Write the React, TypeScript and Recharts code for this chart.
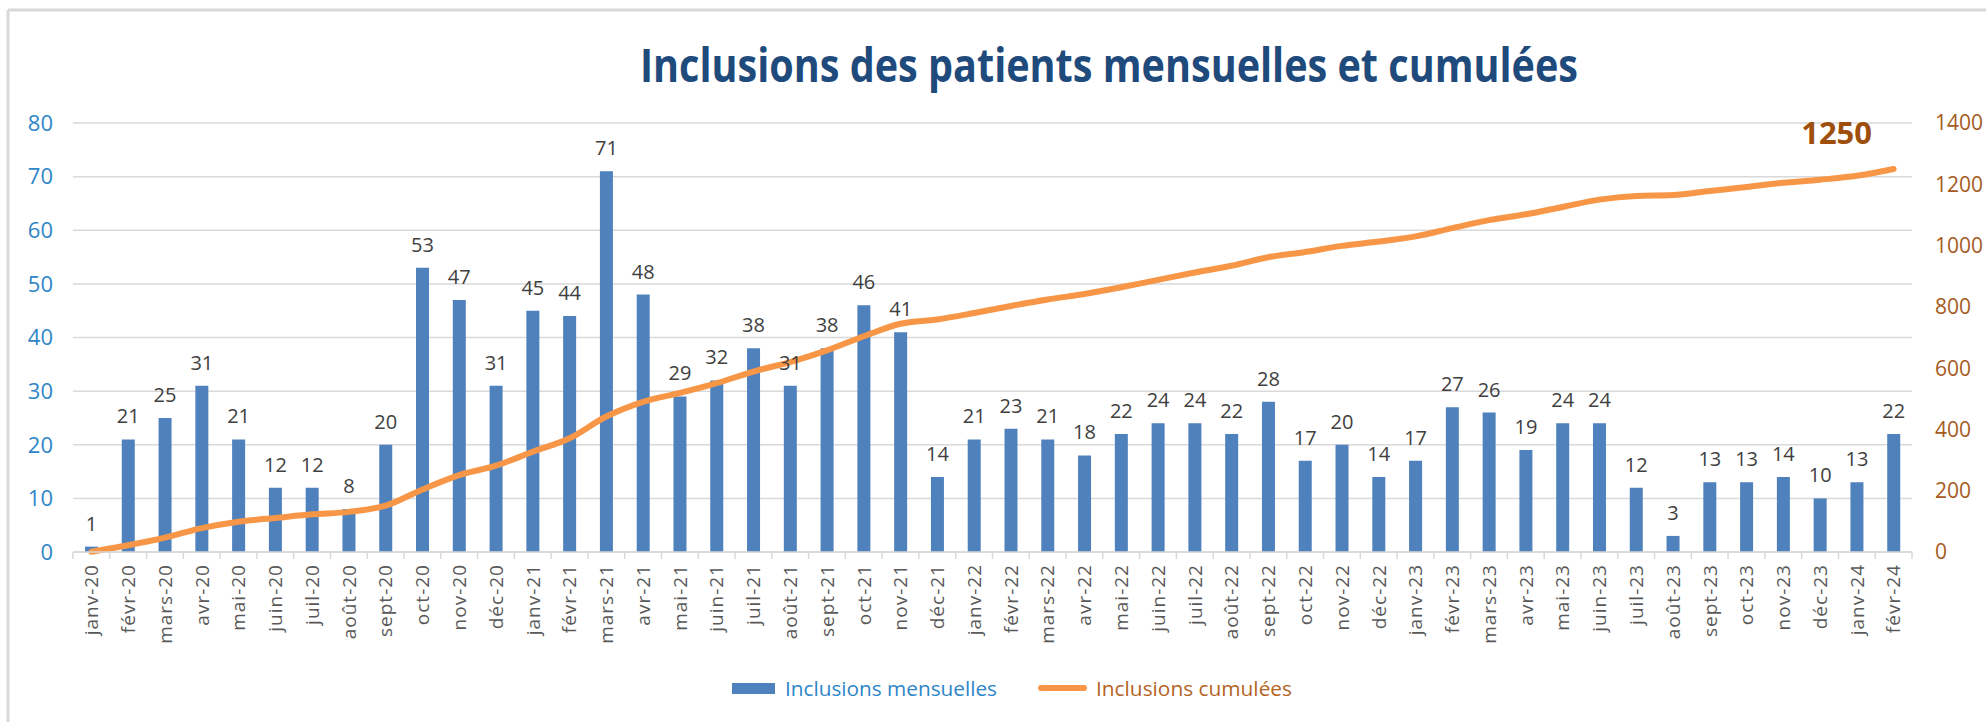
import React from 'react';
import { ComposedChart, Bar, Line, XAxis, YAxis, CartesianGrid, LabelList } from 'recharts';

const months = [
  'janv-20', 'févr-20', 'mars-20', 'avr-20', 'mai-20', 'juin-20', 'juil-20', 'août-20', 'sept-20', 'oct-20', 'nov-20', 'déc-20',
  'janv-21', 'févr-21', 'mars-21', 'avr-21', 'mai-21', 'juin-21', 'juil-21', 'août-21', 'sept-21', 'oct-21', 'nov-21', 'déc-21',
  'janv-22', 'févr-22', 'mars-22', 'avr-22', 'mai-22', 'juin-22', 'juil-22', 'août-22', 'sept-22', 'oct-22', 'nov-22', 'déc-22',
  'janv-23', 'févr-23', 'mars-23', 'avr-23', 'mai-23', 'juin-23', 'juil-23', 'août-23', 'sept-23', 'oct-23', 'nov-23', 'déc-23',
  'janv-24', 'févr-24',
];

const monthly = [
  1, 21, 25, 31, 21, 12, 12, 8, 20, 53, 47, 31,
  45, 44, 71, 48, 29, 32, 38, 31, 38, 46, 41, 14,
  21, 23, 21, 18, 22, 24, 24, 22, 28, 17, 20, 14,
  17, 27, 26, 19, 24, 24, 12, 3, 13, 13, 14, 10,
  13, 22,
];

const cumulative = [
  1, 22, 47, 78, 99, 111, 123, 131, 151, 204, 251, 282,
  327, 371, 442, 490, 519, 551, 589, 620, 658, 704, 745, 759,
  780, 803, 824, 842, 864, 888, 912, 934, 962, 979, 999, 1013,
  1030, 1057, 1083, 1102, 1126, 1150, 1162, 1165, 1178, 1191, 1205, 1215,
  1228, 1250,
];

const leftTicks = [0, 10, 20, 30, 40, 50, 60, 70, 80];
const rightTicks = [0, 200, 400, 600, 800, 1000, 1200, 1400];

const TITLE = 'Inclusions des patients mensuelles et cumulées';
const LEGEND_BAR = 'Inclusions mensuelles';
const LEGEND_LINE = 'Inclusions cumulées';

const data = months.map((m, i) => ({ month: m, mensuelles: monthly[i], cumulees: cumulative[i] }));

const FONT = '"Open Sans", "Noto Sans", sans-serif';
const HALF_BAND = 18.39;

const XTick = (props: any) => {
  const { x, y, payload, index } = props;
  return (
    <g>
      <line x1={x + HALF_BAND} y1={y - 12} x2={x + HALF_BAND} y2={y - 5} stroke="#d9d9d9" strokeWidth={1.5} />
      {index === 0 && (
        <line x1={x - HALF_BAND} y1={y - 12} x2={x - HALF_BAND} y2={y - 5} stroke="#d9d9d9" strokeWidth={1.5} />
      )}
      <text
        x={x}
        y={y}
        transform={`rotate(-90, ${x}, ${y})`}
        textAnchor="end"
        dy="0.36em"
        fontSize={19}
        letterSpacing={1}
        fill="#595959"
        fontFamily={FONT}
      >
        {payload.value}
      </text>
    </g>
  );
};

const lastValue = cumulative[cumulative.length - 1];

const renderLastLabel = (p: any) => {
  if (p.value !== lastValue) return null;
  return (
    <text
      x={p.x - 57}
      y={p.y - 25}
      textAnchor="middle"
      fontSize={31}
      fontWeight="bold"
      fill="#9E4F0C"
      fontFamily={FONT}
    >
      {p.value}
    </text>
  );
};

export default function App() {
  return (
    <div style={{ position: 'absolute', left: 0, top: 0, width: 1986, height: 722, background: '#ffffff', overflow: 'hidden' }}>
      <ComposedChart
        width={1986}
        height={722}
        data={data}
        margin={{ top: 123, right: 0, left: 0, bottom: 60 }}
      >
        <CartesianGrid yAxisId="left" vertical={false} stroke="#d9d9d9" strokeWidth={1.5} />
        <XAxis
          dataKey="month"
          interval={0}
          height={110}
          tickSize={0}
          tickMargin={12}
          tickLine={false}
          axisLine={{ stroke: '#d9d9d9', strokeWidth: 1.5 }}
          tick={<XTick />}
        />
        <YAxis
          yAxisId="left"
          domain={[0, 80]}
          ticks={leftTicks}
          width={73}
          tickSize={0}
          tickMargin={20}
          axisLine={false}
          tickLine={false}
          tick={{ fill: '#2E86C8', fontSize: 22, fontFamily: FONT }}
        />
        <YAxis
          yAxisId="right"
          orientation="right"
          domain={[0, 1400]}
          ticks={rightTicks}
          width={74}
          tickSize={0}
          tickMargin={23}
          axisLine={false}
          tickLine={false}
          tick={{ fill: '#A65B22', fontSize: 21, fontFamily: FONT }}
        />
        <Bar yAxisId="left" dataKey="mensuelles" fill="#4F81BD" barSize={13} isAnimationActive={false}>
          <LabelList dataKey="mensuelles" position="top" offset={16} fill="#404040" fontSize={20} fontFamily={FONT} />
        </Bar>
        <Line
          yAxisId="right"
          type="monotone"
          dataKey="cumulees"
          stroke="#F79646"
          strokeWidth={6}
          dot={false}
          strokeLinecap="round"
          isAnimationActive={false}
        >
          <LabelList dataKey="cumulees" content={renderLastLabel} />
        </Line>
      </ComposedChart>
      <svg
        width={1986}
        height={722}
        style={{ position: 'absolute', left: 0, top: 0, pointerEvents: 'none' }}
      >
        <line x1={8} y1={10} x2={1986} y2={10} stroke="#d9d9d9" strokeWidth={3} />
        <line x1={8} y1={10} x2={8} y2={722} stroke="#d9d9d9" strokeWidth={3} />
        <text
          x={1109}
          y={82}
          textAnchor="middle"
          fontSize={47}
          fontWeight="bold"
          fill="#1F4A7C"
          fontFamily={FONT}
          textLength={938}
          lengthAdjust="spacingAndGlyphs"
        >
          {TITLE}
        </text>
        <rect x={732} y={683} width={43} height={11} fill="#4F81BD" />
        <text x={785} y={696} fontSize={20} fill="#2E86C8" fontFamily={FONT} textLength={212} lengthAdjust="spacingAndGlyphs">
          {LEGEND_BAR}
        </text>
        <line x1={1041} y1={688} x2={1084} y2={688} stroke="#F79646" strokeWidth={6} strokeLinecap="round" />
        <text x={1096} y={696} fontSize={20} fill="#B36424" fontFamily={FONT} textLength={196} lengthAdjust="spacingAndGlyphs">
          {LEGEND_LINE}
        </text>
      </svg>
    </div>
  );
}
